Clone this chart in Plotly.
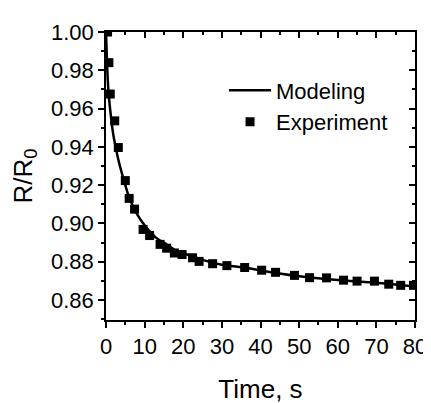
import plotly.graph_objects as go

# Experiment data
exp_t = [0.4, 0.75, 1.1, 2.26, 3.19, 5.0, 6.0, 7.4, 9.6, 11.3, 14.0, 15.7, 17.7, 19.7,
         22.4, 24.1, 27.6, 31.3, 35.9, 40.3, 43.9, 48.8, 52.7, 57.1, 61.5, 65.0,
         69.5, 73.2, 76.3, 79.6]
exp_r = [1.000, 0.984, 0.9676, 0.9536, 0.9397, 0.9224, 0.9131, 0.9075, 0.8969, 0.8937,
         0.8891, 0.8871, 0.8846, 0.8838, 0.8821, 0.8802, 0.8790, 0.8780, 0.8770,
         0.8756, 0.8745, 0.8729, 0.8717, 0.8716, 0.8704, 0.8699, 0.8699, 0.8683,
         0.8677, 0.8677]

# Modeling curve
mod_t = [0, 0.3, 0.6, 1.0, 1.5, 2.0, 2.5, 3.0, 4.0, 5.0, 6.0, 7.0, 8.0, 10.0, 13.0,
         15.0, 18.0, 20.0, 25.0, 30.0, 36.0, 40.0, 50.0, 60.0, 70.0, 80.0]
mod_r = [1.000, 0.982, 0.970, 0.961, 0.952, 0.945, 0.940, 0.935, 0.927, 0.920,
         0.9135, 0.909, 0.905, 0.899, 0.8925, 0.890, 0.886, 0.8845, 0.881, 0.8785,
         0.877, 0.8755, 0.8725, 0.8705, 0.869, 0.867]

x_range = [0, 80]
y_range = [0.8496, 1.0]
x_ticks = [0, 10, 20, 30, 40, 50, 60, 70, 80]
y_ticks = [0.86, 0.88, 0.90, 0.92, 0.94, 0.96, 0.98, 1.00]

FONT = "Liberation Sans, Arial, sans-serif"
fig = go.Figure()
fig.add_trace(go.Scatter(x=mod_t, y=mod_r, mode="lines", name="Modeling",
                         line=dict(color="black", width=2.5, shape="spline", smoothing=0.6)))
fig.add_trace(go.Scatter(x=exp_t, y=exp_r, mode="markers", name="Experiment",
                         marker=dict(symbol="square", size=9, color="black")))
# dummy trace to activate mirrored axes
fig.add_trace(go.Scatter(x=[], y=[], xaxis="x2", yaxis="y2", showlegend=False, hoverinfo="skip"))

axis_common = dict(showline=True, linecolor="black", linewidth=1.5, showgrid=False,
                   zeroline=False, tickcolor="black", tickwidth=1.5)

fig.update_layout(
    width=431, height=403,
    margin=dict(l=98, r=14, t=23, b=72),
    paper_bgcolor="white", plot_bgcolor="white",
    font=dict(family=FONT, size=22, color="black"),
    xaxis=dict(range=x_range, tickvals=x_ticks, ticks="outside", ticklen=6,
               minor=dict(dtick=5, tick0=0, ticks="outside", ticklen=3, tickcolor="black", tickwidth=1.5),
               title=dict(text="Time, s", standoff=22), **axis_common),
    yaxis=dict(range=y_range, tickvals=y_ticks, tickformat=".2f", ticks="outside", ticklen=6,
               minor=dict(dtick=0.01, tick0=0.86, ticks="outside", ticklen=3, tickcolor="black", tickwidth=1.5),
               title=dict(text="R/R<sub>0</sub>", standoff=13), **axis_common),
    xaxis2=dict(range=x_range, overlaying="x", side="top", tickvals=x_ticks, ticks="inside",
                ticklen=6, showticklabels=False,
                minor=dict(dtick=5, tick0=0, ticks="inside", ticklen=3, tickcolor="black", tickwidth=1.5),
                **axis_common),
    yaxis2=dict(range=y_range, overlaying="y", side="right", tickvals=y_ticks, ticks="inside",
                ticklen=6, showticklabels=False,
                minor=dict(dtick=0.01, tick0=0.86, ticks="inside", ticklen=3, tickcolor="black", tickwidth=1.5),
                **axis_common),
    legend=dict(x=0.382, y=0.87, xanchor="left", yanchor="top", bgcolor="rgba(0,0,0,0)",
                font=dict(family=FONT, size=22), tracegroupgap=0, itemwidth=42),
    showlegend=True,
)

fig.write_html("out.html")
